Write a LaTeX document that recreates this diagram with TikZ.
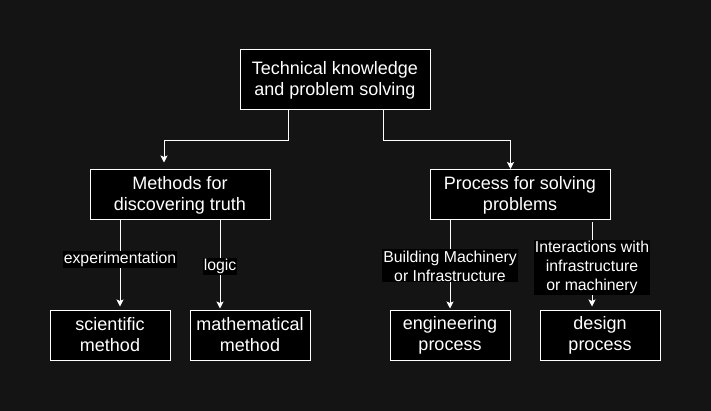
\documentclass[tikz,border=0pt]{standalone}
\usepackage{fontspec}
\setmainfont{Liberation Sans}
\usetikzlibrary{arrows.meta}
\definecolor{bgc}{RGB}{20,20,20}
\begin{document}
\begin{tikzpicture}[x=1pt,y=-1pt,
  box/.style={draw=white,fill=black,text=white,line width=1pt,inner sep=0pt,align=center,font=\fontsize{18}{21}\selectfont},
  lbl/.style={fill=black,text=white,inner sep=1.2pt,align=center,font=\fontsize{15.8}{19}\selectfont},
  arr/.style={draw=white,line width=1pt,-{Stealth[length=7pt,width=7pt,inset=1.5pt]}}]
\fill[bgc] (0,0) rectangle (711,411);
\useasboundingbox (0,0) rectangle (711,411);
\node[box,minimum width=190pt,minimum height=60pt] (top) at (335,80) {Technical knowledge\\and problem solving};
\node[box,minimum width=180pt,minimum height=50pt] (methods) at (180,195) {Methods for\\discovering truth};
\node[box,minimum width=180pt,minimum height=50pt] (process) at (520,195) {Process for solving\\problems};
\node[box,minimum width=120pt,minimum height=50pt] (sci) at (110,335) {scientific\\method};
\node[box,minimum width=120pt,minimum height=50pt] (math) at (250,335) {mathematical\\method};
\node[box,minimum width=120pt,minimum height=50pt] (eng) at (450,335) {engineering\\process};
\node[box,minimum width=120pt,minimum height=50pt] (des) at (600,335) {design\\process};
\draw[arr] ([xshift=-47pt]top.south) -- ++(0,30) -| ([xshift=-16pt,yshift=7pt]methods.north);
\draw[arr] ([xshift=48pt]top.south) -- ++(0,30) -| ([xshift=-9.5pt,yshift=0.5pt]process.north);
\draw[arr] ([xshift=-60pt]methods.south) -- ([xshift=10pt,yshift=3pt]sci.north) node[lbl,pos=0.454] (l1) {experimentation};
\draw[arr] ([xshift=40pt]methods.south) -- ([xshift=-30pt,yshift=1pt]math.north) node[lbl,pos=0.52] (l2) {logic};
\draw[arr] ([xshift=-70pt]process.south) -- ([yshift=1pt]eng.north) node[lbl,pos=0.517] (l3) {Building Machinery\\or Infrastructure};
\draw[arr] ([xshift=72pt,yshift=-2pt]process.south) -- ([xshift=-8pt,yshift=3pt]des.north) node[lbl,pos=0.536] (l4) {Interactions with\\infrastructure\\or machinery};
\end{tikzpicture}
\end{document}
